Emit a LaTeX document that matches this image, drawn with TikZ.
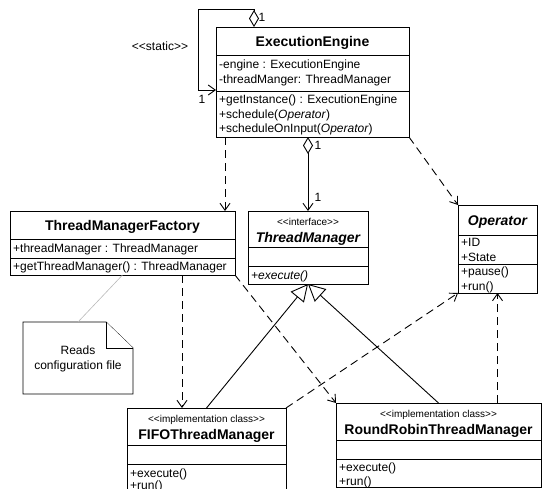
\documentclass[tikz,border=0pt]{standalone}
\usepackage{fontspec}
\setmainfont{Liberation Sans}[Ligatures=TeXOff]
\usetikzlibrary{arrows.meta,calc}
\begin{document}
\begin{tikzpicture}[x=1pt,y=-1pt,
  box/.style={draw=black, line width=0.9pt, fill=white, inner sep=0pt, outer sep=0pt},
  divl/.style={draw=black, line width=0.9pt},
  body/.style={font=\fontsize{12}{14}\selectfont, inner sep=0pt, anchor=base west},
  ttl/.style={font=\fontsize{14}{16}\selectfont\bfseries, inner sep=0pt, anchor=base},
  ittl/.style={font=\fontsize{14}{16}\selectfont\bfseries\itshape, inner sep=0pt, anchor=base},
  stereo/.style={font=\fontsize{10}{12}\selectfont, inner sep=0pt, anchor=base},
  lbl/.style={font=\fontsize{12}{14}\selectfont, inner sep=0pt, anchor=base},
  dep/.style={draw=black, line width=0.9pt, dash pattern=on 8pt off 5pt, -{Straight Barb[length=7pt,width=10pt]}},
  agg/.style={draw=black, line width=0.9pt, {Diamond[length=17pt,width=10pt,fill=white]}-{Straight Barb[length=7pt,width=10pt]}},
  real/.style={draw=black, line width=0.9pt, -{Triangle[length=17pt,width=17pt,fill=white]}},
  notel/.style={draw=black, line width=0.8pt, fill=white},
]
\useasboundingbox (0,0) rectangle (543,488);
\newcommand\cdivider[2]{\draw[divl] ($(#1.north west)+(0,#2)$) -- ($(#1.north east)+(0,#2)$);}

% ExecutionEngine
\node[box, minimum width=193pt, minimum height=110pt] (ee) at (312.5,82) {};
\cdivider{ee}{28}
\cdivider{ee}{64}
\node[ttl] (ee-t) at (312.5,46) {ExecutionEngine};
\node[body] (ee-a1) at (219,68) {-engine : ExecutionEngine};
\node[body] (ee-a2) at (219,83) {-threadManger: ThreadManager};
\node[body] (ee-m1) at (219,103.5) {+getInstance() : ExecutionEngine};
\node[body] (ee-m2) at (219,118) {+schedule(\textit{Operator})};
\node[body] (ee-m3) at (219,132.5) {+scheduleOnInput(\textit{Operator})};

% ThreadManagerFactory
\node[box, minimum width=225pt, minimum height=64pt] (tmf) at (122.5,243) {};
\cdivider{tmf}{28}
\cdivider{tmf}{47}
\node[ttl] (tmf-t) at (122.5,230) {ThreadManagerFactory};
\node[body] (tmf-a1) at (13,252.5) {+threadManager : ThreadManager};
\node[body] (tmf-m1) at (13,270.5) {+getThreadManager() : ThreadManager};

% ThreadManager
\node[box, minimum width=120pt, minimum height=73pt] (tm) at (308,247.5) {};
\cdivider{tm}{36}
\cdivider{tm}{55}
\node[stereo] (tm-s) at (308,225.5) {<<interface>>};
\node[ittl] (tm-t) at (308,242.5) {ThreadManager};
\node[body] (tm-m1) at (251,279) {\textit{+execute()}};

% Operator
\node[box, minimum width=79pt, minimum height=88pt] (op) at (497.5,249) {};
\cdivider{op}{30}
\cdivider{op}{59}
\node[ittl] (op-t) at (497.5,225) {Operator};
\node[body] (op-a1) at (461,246) {+ID};
\node[body] (op-a2) at (461,261) {+State};
\node[body] (op-m1) at (461,275.5) {+pause()};
\node[body] (op-m2) at (461,290) {+run()};

% FIFOThreadManager
\node[box, minimum width=159pt, minimum height=96pt] (fifo) at (206.5,456) {};
\cdivider{fifo}{37}
\cdivider{fifo}{56}
\node[stereo] (fifo-s) at (206.5,422.5) {<<implementation class>>};
\node[ttl] (fifo-t) at (206.5,439.5) {FIFOThreadManager};
\node[body] (fifo-m1) at (130,477) {+execute()};
\node[body] (fifo-m2) at (130,489.5) {+run()};

% RoundRobinThreadManager
\node[box, minimum width=205pt, minimum height=84pt] (rr) at (438.5,445) {};
\cdivider{rr}{37}
\cdivider{rr}{56}
\node[stereo] (rr-s) at (438.5,417.5) {<<implementation class>>};
\node[ttl] (rr-t) at (438.5,434.5) {RoundRobinThreadManager};
\node[body] (rr-m1) at (339,471) {+execute()};
\node[body] (rr-m2) at (339,485) {+run()};

% Note
\node[inner sep=0pt, outer sep=0pt, minimum width=110pt, minimum height=72pt] (note) at (78,358) {};
\draw[notel] (note.north west) -- ($(note.north east)+(-27,0)$) -- ($(note.north east)+(0,26)$) -- (note.south east) -- (note.south west) -- cycle;
\draw[notel] ($(note.north east)+(-27,0)$) -- ($(note.north east)+(-27,26)$) -- ($(note.north east)+(0,26)$);
\node[lbl] (note-t1) at (78,354) {Reads};
\node[lbl] (note-t2) at (78,369) {configuration file};
\draw[line width=0.6pt, draw={rgb,255:red,185;green,185;blue,185}] (note.north) -- (tmf.south);

% Connectors
\coordinate (a1) at ($(ee.south west)+(9,0)$);
\draw[dep] (a1) -- (a1 |- tmf.north);
\draw[agg] (ee.south -| tm.north) -- (tm.north);
\draw[dep] (ee.south east) -- (op.north west);
\coordinate (s0) at ($(ee.north west)+(38,0)$);
\coordinate (s1) at ($(ee.north west)+(0,63)$);
\draw[agg] (s0) |- ++(-56,-18) |- (s1);
\coordinate (a3) at ($(fifo.north west)+(55,0)$);
\draw[dep] (a3 |- tmf.south) -- (a3);
\draw[dep] (tmf.south east) -- (rr.north west);
\draw[real] (fifo.north) -- (tm.south);
\draw[real] (rr.north) -- (tm.south);
\draw[dep] (fifo.north east) -- (op.south west);
\draw[dep] (op.south |- rr.north) -- (op.south);

% Multiplicities
\node[lbl] (m1) at (262,21) {1};
\node[lbl] (m2) at (202,103) {1};
\node[lbl] (st) at (160,50) {<<static>>};
\node[lbl] (m3) at (318,149) {1};
\node[lbl] (m4) at (318,201) {1};
\end{tikzpicture}
\end{document}
